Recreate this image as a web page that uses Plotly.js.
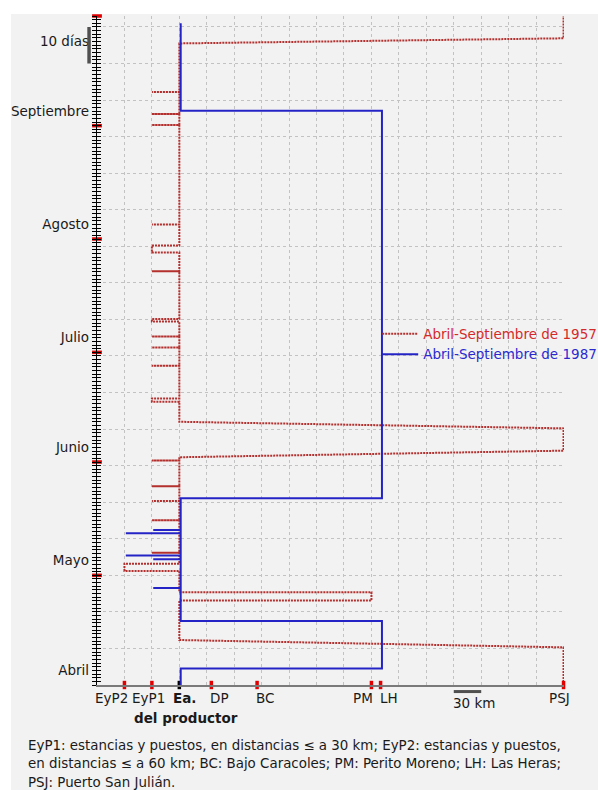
<!DOCTYPE html>
<html><head><meta charset="utf-8">
<script src="https://cdn.plot.ly/plotly-3.0.1.min.js"></script>
<style>
html,body{margin:0;padding:0;background:#ffffff;}
#chart{position:absolute;left:11px;top:14px;width:587px;height:776px;}
</style></head>
<body><div id="chart"></div>
<script>
// Sites along the route (km from the producer's estancia, "Ea.")
const siteNames = ['EyP2', 'EyP1', 'Ea.', 'DP', 'BC', 'PM', 'LH', 'PSJ'];
const siteKm    = [-60, -30, 0, 35, 85, 210, 220, 420];
const siteLabelShift = [-13, -3, 5, 8, 8, -8, 8, -4];

// Time axis: days counted from 1 April
const monthNames     = ['Abril', 'Mayo', 'Junio', 'Julio', 'Agosto', 'Septiembre'];
const monthStartDays = [0, 30, 61, 91, 122, 153, 183];
const scaleDays = [170, 180];   // "10 días" scale bar
const scaleKm   = [300, 330];   // "30 km" scale bar

// 1957 itinerary (km, day)
const km1957 = [
  420, 420, 0,
  0, 210, 210, 0,
  0, -60, -60, 0,
  0, -30, 0,
  0, -30, 0,
  0, -30, 0,
  0, -30, 0,
  0, -30, 0,
  0, 420, 420, 0,
  0, -30, -30, 0,
  0, -30, 0,
  0, -30, 0,
  0, -30, 0,
  0, -30, -30, 0,
  0, -30, 0,
  0, -30, -30, 0,
  0, -30, 0,
  0, -30, 0,
  0, -30, 0,
  0, -30, 0,
  0, 420, 420
];
const day1957 = [
  0, 10.3, 12.3,
  23.1, 23.1, 25.4, 25.4,
  31.2, 31.2, 33.2, 33.2,
  36.2, 36.2, 36.2,
  45.1, 45.1, 45.1,
  50.3, 50.3, 50.3,
  54.4, 54.4, 54.4,
  61.4, 61.4, 61.4,
  62.3, 64.1, 70.2, 72.0,
  77.5, 77.5, 78.4, 78.4,
  87.3, 87.3, 87.3,
  92.3, 92.3, 92.3,
  95.3, 95.3, 95.3,
  99.4, 99.4, 100.1, 100.1,
  113.2, 113.2, 113.2,
  118.3, 118.3, 120.2, 120.2,
  126.0, 126.0, 126.0,
  153.2, 153.2, 153.2,
  156.2, 156.2, 156.2,
  162.2, 162.2, 162.2,
  175.5, 176.9, 183
];

// 1987 itinerary (km, day)
const km1987 = [
  0, 0, 220, 220, 0,
  0, -30, 0,
  0, -30, 0,
  0, -60, 0,
  0, -60, 0,
  0, -30, 0,
  0, 220, 220, 0, 0
];
const day1987 = [
  0, 4.5, 4.5, 17.5, 17.5,
  26.5, 26.5, 26.5,
  34.4, 34.4, 34.4,
  35.4, 35.4, 35.4,
  41.5, 41.5, 41.5,
  42.4, 42.4, 42.4,
  51.1, 51.1, 157.1, 157.1, 181.0
];

const seriesNames = ['Abril-Septiembre de 1957', 'Abril-Septiembre de 1987'];
const captionLines = [
  'EyP1: estancias y puestos, en distancias \u2264 a 30 km; EyP2: estancias y puestos,',
  'en distancias \u2264 a 60 km; BC: Bajo Caracoles; PM: Perito Moreno; LH: Las Heras;',
  'PSJ: Puerto San Juli\u00e1n.'
];

const FONT = 'DejaVu Sans, Verdana, sans-serif';
const RED = '#b3302e', BLUE = '#2424c6';
const xRange = [-90, 420.5];
const yRange = [0, 183];

const traces = [
  {x: km1957, y: day1957, type: 'scatter', mode: 'lines', name: '<span style="color:#d42a2a">' + seriesNames[0] + '</span>',
   line: {color: RED, width: 2, dash: '2px,1px'}, xaxis: 'x', yaxis: 'y', hoverinfo: 'skip'},
  {x: km1987, y: day1987, type: 'scatter', mode: 'lines', name: '<span style="color:#2a2ad0">' + seriesNames[1] + '</span>',
   line: {color: BLUE, width: 2}, xaxis: 'x2', yaxis: 'y', hoverinfo: 'skip'},
  {x: monthStartDays.slice(1).map(() => xRange[0]), y: monthStartDays.slice(1), type: 'scatter', mode: 'markers',
   marker: {symbol: 'line-ew', size: 7, line: {width: 3.5, color: '#e00000'}}, cliponaxis: false, showlegend: false, hoverinfo: 'skip'},
  {x: siteKm, y: siteKm.map(() => 0), type: 'scatter', mode: 'markers',
   marker: {symbol: 'line-ns', size: 6, line: {width: 3.5, color: siteNames.map(s => s === 'Ea.' ? '#000000' : '#e00000')}},
   cliponaxis: false, showlegend: false, hoverinfo: 'skip'}
];

const annotations = [];
siteNames.forEach((s, i) => {
  annotations.push({x: siteKm[i], y: 0, xref: 'x', yref: 'paper', text: s === 'Ea.' ? '<b>' + s + '</b>' : s,
    showarrow: false, xanchor: 'center', yanchor: 'middle', xshift: siteLabelShift[i], yshift: -13,
    font: {family: FONT, size: 13.5, color: '#1a1a1a'}});
});
annotations.push({x: 0, y: 0, xref: 'x', yref: 'paper', text: '<b>del productor</b>', showarrow: false,
  xanchor: 'center', yanchor: 'middle', xshift: 7, yshift: -33, font: {family: FONT, size: 13.5, color: '#1a1a1a'}});
annotations.push({x: (scaleKm[0] + scaleKm[1]) / 2, y: 0, xref: 'x', yref: 'paper', text: '30 km', showarrow: false,
  xanchor: 'center', yanchor: 'middle', xshift: 7, yshift: -18, font: {family: FONT, size: 13.5, color: '#1a1a1a'}});
captionLines.forEach((t, i) => {
  annotations.push({x: 0, y: 0, xref: 'paper', yref: 'paper', text: t, showarrow: false,
    xanchor: 'left', yanchor: 'middle', xshift: -70, yshift: -60 - 18.8 * i, align: 'left', borderpad: 0,
    font: {family: FONT, size: 13.4, color: '#1a1a1a'}});
});

const labelDays = monthStartDays.slice(0, 6).map(d => d + 4).concat([(scaleDays[0] + scaleDays[1]) / 2 + 1]);
const labelText = monthNames.concat(['10 días']);

const layout = {
  width: 587, height: 776,
  margin: {l: 86, r: 34, t: 2, b: 105, autoexpand: false},
  paper_bgcolor: '#f2f2f2', plot_bgcolor: '#f2f2f2',
  font: {family: FONT, size: 13, color: '#1a1a1a'},
  showlegend: true,
  legend: {x: 0.6, xanchor: 'left', y: 0.548, yanchor: 'top', bgcolor: 'rgba(0,0,0,0)', itemwidth: 36,
           font: {family: FONT, size: 13.5}, tracegroupgap: 0},
  xaxis: {range: xRange, tick0: 0, dtick: 30, showgrid: true, gridcolor: '#c2c2c2', griddash: 'dot', gridwidth: 1,
          showline: true, linecolor: '#7a7a7a', linewidth: 2, ticks: '', showticklabels: false, zeroline: false, fixedrange: true},
  xaxis2: {range: [xRange[0] - 1.5, xRange[1] - 1.5], overlaying: 'x', visible: false, fixedrange: true},
  yaxis: {range: yRange, tick0: 0, dtick: 10, showgrid: true, gridcolor: '#c2c2c2', griddash: 'dot', gridwidth: 1,
          showline: true, linecolor: '#000', linewidth: 1, ticks: 'outside', ticklen: 4, tickcolor: '#000', tickwidth: 1,
          minor: {dtick: 1, ticks: 'outside', ticklen: 4, tickcolor: '#000', tickwidth: 1, showgrid: false},
          showticklabels: false, zeroline: false, fixedrange: true},
  yaxis2: {range: yRange, overlaying: 'y', side: 'left', tick0: 0, dtick: 1, ticks: 'inside', ticklen: 4, tickcolor: '#000',
           tickwidth: 1, showgrid: false, showline: false, showticklabels: false, zeroline: false, fixedrange: true},
  yaxis3: {range: yRange, overlaying: 'y', side: 'left', tickmode: 'array', tickvals: labelDays, ticktext: labelText,
           ticks: '', showgrid: false, showline: false, zeroline: false, ticklabelstandoff: 7,
           tickfont: {family: FONT, size: 13.5, color: '#1a1a1a'}, fixedrange: true},
  shapes: [
    {type: 'line', xref: 'paper', yref: 'y', x0: -0.017, x1: -0.017, y0: scaleDays[0], y1: scaleDays[1],
     line: {color: '#505050', width: 3.5}},
    {type: 'line', xref: 'x', yref: 'paper', x0: scaleKm[0], x1: scaleKm[1], y0: -0.0098, y1: -0.0098,
     line: {color: '#505050', width: 3}}
  ],
  annotations: annotations
};

// dummy traces so the overlay y axes get drawn
traces.push({x: [null], y: [null], yaxis: 'y2', showlegend: false, hoverinfo: 'skip', type: 'scatter'});
traces.push({x: [null], y: [null], yaxis: 'y3', showlegend: false, hoverinfo: 'skip', type: 'scatter'});

Plotly.newPlot('chart', traces, layout, {staticPlot: true, displayModeBar: false});
</script>
</body></html>
